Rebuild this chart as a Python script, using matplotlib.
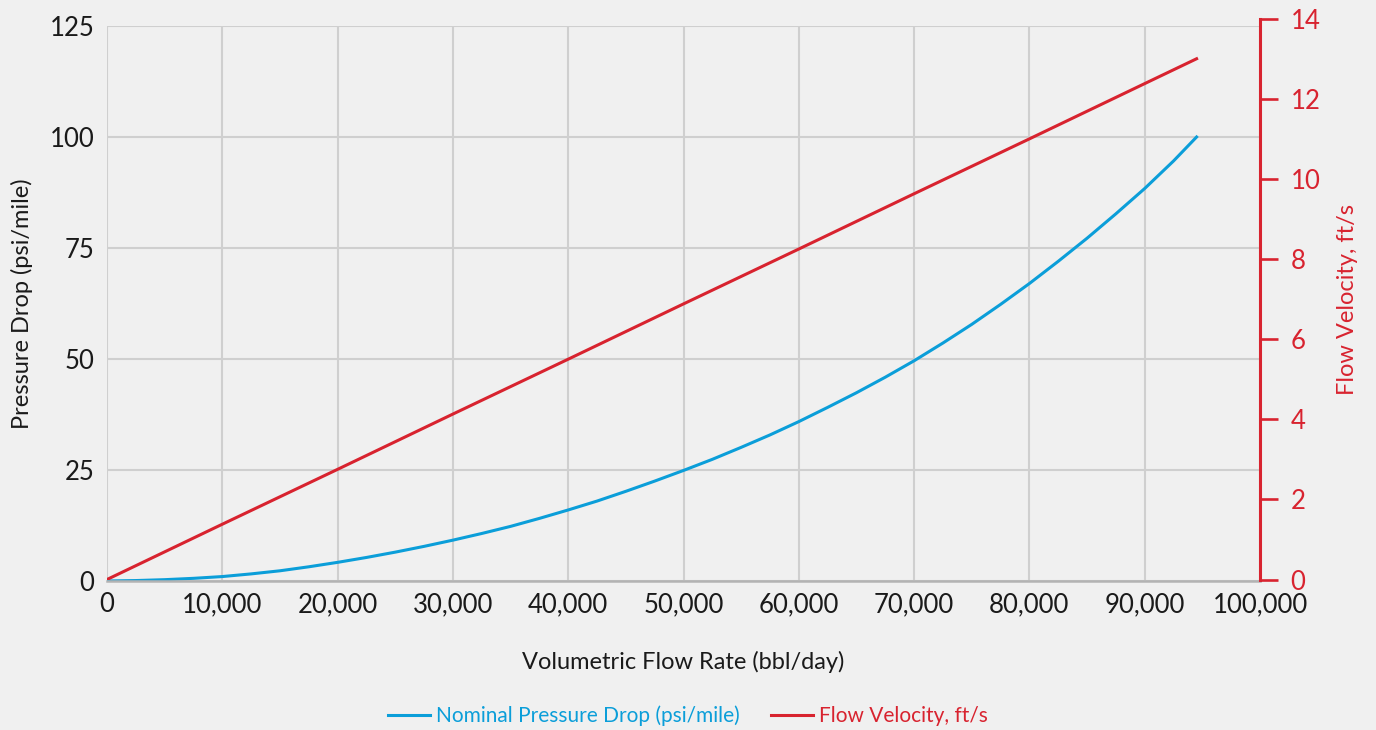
import matplotlib.pyplot as plt
from matplotlib.ticker import FuncFormatter

plt.rcParams['font.family'] = ['Lato', 'DejaVu Sans']

# data
flow_rate = [0, 2500, 5000, 7500, 10000, 12500, 15000, 17500, 20000, 22500,
             25000, 27500, 30000, 32500, 35000, 37500, 40000, 42500, 45000, 47500,
             50000, 52500, 55000, 57500, 60000, 62500, 65000, 67500, 70000, 72500,
             75000, 77500, 80000, 82500, 85000, 87500, 90000, 92500, 94500]
pressure_drop = [0, 0.1, 0.3, 0.6, 1.0, 1.6, 2.3, 3.2, 4.2, 5.3,
                 6.5, 7.8, 9.2, 10.7, 12.3, 14.1, 16.0, 18.0, 20.2, 22.5,
                 24.9, 27.4, 30.1, 32.9, 35.9, 39.1, 42.4, 45.9, 49.6, 53.6,
                 57.8, 62.3, 67.0, 72.0, 77.2, 82.7, 88.4, 94.6, 100.0]
vel_flow = [0, 10000, 20000, 30000, 40000, 50000, 60000, 70000, 80000, 90000, 94500]
velocity = [0, 1.38, 2.75, 4.13, 5.50, 6.88, 8.25, 9.63, 11.0, 12.38, 13.0]

x_ticks = [0, 10000, 20000, 30000, 40000, 50000, 60000, 70000, 80000, 90000, 100000]
left_ticks = [0, 25, 50, 75, 100, 125]
right_ticks = [0, 2, 4, 6, 8, 10, 12, 14]

BG = '#f0f0f0'
BLUE = '#0b9ed9'
RED = '#d8232f'
GRID = '#cfcfcf'
TXT = '#1a1a1a'

W, H = 1376, 730
fig = plt.figure(figsize=(W / 100, H / 100), dpi=100, facecolor=BG)

# main (left) axis
l, r, t, b = 107, 1260, 26, 581
ax = fig.add_axes([l / W, 1 - b / H, (r - l) / W, (b - t) / H], facecolor=BG)
ax.set_xlim(0, 100000)
ax.set_ylim(0, 125)
ax.set_xticks(x_ticks)
ax.set_yticks(left_ticks)
ax.xaxis.set_major_formatter(FuncFormatter(lambda v, p: f'{int(v):,}'))
ax.grid(True, color=GRID, linewidth=1.5)
ax.set_axisbelow(True)
for s in ['top', 'right', 'left']:
    ax.spines[s].set_visible(False)
ax.spines['bottom'].set_color('#b3b3b3')
ax.spines['bottom'].set_linewidth(1.8)
ax.tick_params(axis='both', length=0, labelsize=18.5, colors=TXT)
ax.tick_params(axis='x', pad=8)
ax.tick_params(axis='y', pad=9)
ax.set_xlabel('Volumetric Flow Rate (bbl/day)', fontsize=17, color=TXT, labelpad=24)
ax.set_ylabel('Pressure Drop (psi/mile)', fontsize=17, color=TXT, labelpad=12)

line1, = ax.plot(flow_rate, pressure_drop, color=BLUE, linewidth=2.2,
                 solid_joinstyle='round', label='Nominal Pressure Drop (psi/mile)')

# right axis (velocity), slightly taller than the left one
t2, b2 = 18.7, 579.5
ax2 = fig.add_axes([l / W, 1 - b2 / H, (r - l) / W, (b2 - t2) / H])
ax2.patch.set_visible(False)
ax2.set_xlim(0, 100000)
ax2.set_ylim(0, 14)
ax2.set_yticks(right_ticks)
ax2.set_xticks([])
for s in ['top', 'left', 'bottom']:
    ax2.spines[s].set_visible(False)
ax2.spines['right'].set_color(RED)
ax2.spines['right'].set_linewidth(2.2)
ax2.yaxis.tick_right()
ax2.yaxis.set_label_position('right')
ax2.tick_params(axis='y', direction='out', length=13, width=1.9, color=RED,
                labelcolor=RED, labelsize=18.5, pad=9)
ax2.set_ylabel('Flow Velocity, ft/s', fontsize=17, color=RED, labelpad=12)

line2, = ax2.plot(vel_flow, velocity, color=RED, linewidth=2.2, label='Flow Velocity, ft/s')

leg = fig.legend(handles=[line1, line2], loc='center', bbox_to_anchor=(0.5, 1 - 716 / H),
                 ncol=2, frameon=False, fontsize=15, handlelength=2.0, handletextpad=0.3,
                 columnspacing=1.5)
for txt, ln in zip(leg.get_texts(), [line1, line2]):
    txt.set_color(ln.get_color())

fig.savefig('out.png', dpi=100, facecolor=BG)
